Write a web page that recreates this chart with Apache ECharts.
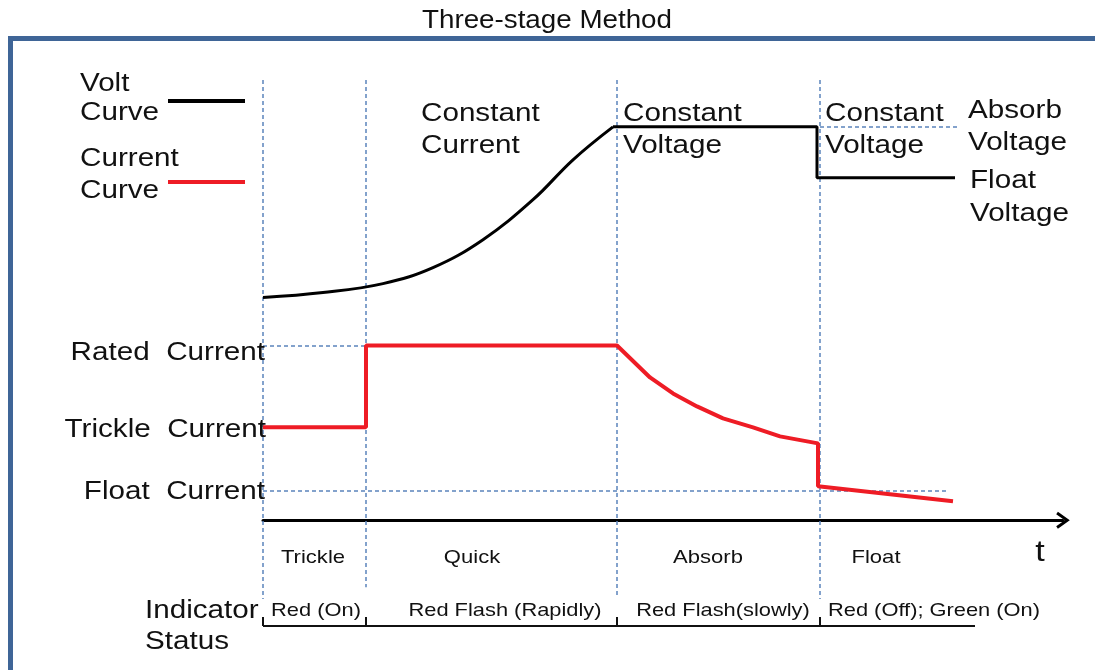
<!DOCTYPE html>
<html>
<head>
<meta charset="utf-8">
<script src="https://cdn.jsdelivr.net/npm/echarts@6/dist/echarts.min.js"></script>
<style>
  html, body { margin: 0; padding: 0; background: #fff; }
  #chart { width: 1095px; height: 670px; }
</style>
</head>
<body>
<div id="chart"></div>
<script>
// time runs 0..80 (arbitrary units), level runs -30..100 (arbitrary units)
var phaseBounds = [0, 10.3, 35.4, 55.7];
var phaseGuideTop = 88.2;
var phaseGuideBottom = [-15.8, -13.4, -15.2, -15.8];

var voltRamp = [
    [0, 44.6], [6, 45.6], [12, 47.4], [17, 50.6], [22, 56.2], [27, 64.2], [31, 72.2], [35, 78.8]
];
var voltHold = [[35, 78.8], [55.4, 78.8], [55.4, 68.6], [69.2, 68.6]];
var currentPts = [
    [0, 18.6], [10.3, 18.6], [10.3, 35], [35.4, 35], [38.7, 28.6], [41, 25.4], [43.4, 22.8],
    [46, 20.4], [49, 18.6], [51.7, 16.8], [55.5, 15.4], [55.5, 6.8], [69, 3.8]
];

var ratedLevel = 35;
var floatLevel = 6.0;
var absorbLevel = 78.8;
var floatGuideEnd = 68.5;
var absorbGuideEnd = 69.7;

var statusLevel = -21.2;
var statusTickTop = -19.4;
var statusEnd = 71.2;

var phaseNames = ['Trickle', 'Quick', 'Absorb', 'Float'];
var phaseNameX = [313, 472, 708, 876];
var indicatorTexts = ['Red (On)', 'Red Flash (Rapidly)', 'Red Flash(slowly)', 'Red (Off); Green (On)'];
var indicatorX = [316, 505, 723, 934];

var FONT = '"Liberation Sans", Arial, sans-serif';
var BIG = '26px ' + FONT;
var SMALL = '19px ' + FONT;
var dashColor = '#5b84bc';
var redColor = '#ee1c25';

var dom = document.getElementById('chart');
var myChart = echarts.init(dom);

// the source lettering is a little stretched sideways
function txt(s, x, y, font, align, sx) {
    return {
        type: 'text', x: x, y: y, z: 10, scaleX: sx || 1.14,
        style: { text: s, font: font, fill: '#111', textAlign: align || 'left', textVerticalAlign: 'middle' }
    };
}

var guideLines = [];
phaseBounds.forEach(function(t, i) {
    guideLines.push([{ coord: [t, phaseGuideTop] }, { coord: [t, phaseGuideBottom[i]] }]);
});
guideLines.push([{ coord: [0, ratedLevel] }, { coord: [phaseBounds[1], ratedLevel] }]);
guideLines.push([{ coord: [0, floatLevel] }, { coord: [floatGuideEnd, floatLevel] }]);
guideLines.push([{ coord: [phaseBounds[3], absorbLevel] }, { coord: [absorbGuideEnd, absorbLevel] }]);

var statusLines = [[{ coord: [0, statusLevel] }, { coord: [statusEnd, statusLevel] }]];
phaseBounds.forEach(function(t) {
    statusLines.push([{ coord: [t, statusTickTop] }, { coord: [t, statusLevel] }]);
});

var graphics = [
    { type: 'rect', z: 1, shape: { x: 10.5, y: 38.5, width: 1100, height: 700 },
      style: { fill: 'none', stroke: '#3f6597', lineWidth: 5 } },
    txt('Three-stage Method', 547, 21, '25px ' + FONT, 'center', 1.11),
    txt('Volt', 80, 84, BIG), txt('Curve', 80, 113, BIG),
    txt('Current', 80, 159, BIG), txt('Curve', 80, 191, BIG),
    { type: 'line', z: 10, shape: { x1: 168, y1: 101, x2: 245, y2: 101 }, style: { stroke: '#000', lineWidth: 4 } },
    { type: 'line', z: 10, shape: { x1: 168, y1: 182, x2: 245, y2: 182 }, style: { stroke: redColor, lineWidth: 4 } },
    txt('Constant', 421, 114, BIG), txt('Current', 421, 146, BIG),
    txt('Constant', 623, 114, BIG), txt('Voltage', 623, 146, BIG),
    txt('Constant', 825, 114, BIG), txt('Voltage', 825, 146, BIG),
    txt('Absorb', 968, 111, BIG), txt('Voltage', 968, 143, BIG),
    txt('Float', 970, 181, BIG), txt('Voltage', 970, 214, BIG),
    txt('Rated  Current', 265, 353, BIG, 'right'),
    txt('Trickle  Current', 266, 430, BIG, 'right'),
    txt('Float  Current', 265, 492, BIG, 'right'),
    txt('t', 1040, 553, '30px ' + FONT, 'center'),
    txt('Indicator', 145, 611, BIG), txt('Status', 145, 642, BIG)
];
phaseNames.forEach(function(s, i) { graphics.push(txt(s, phaseNameX[i], 558, SMALL, 'center', 1.16)); });
indicatorTexts.forEach(function(s, i) { graphics.push(txt(s, indicatorX[i], 611, SMALL, 'center', 1.15)); });

var option = {
    animation: false,
    grid: { left: 263, top: 21, width: 800, height: 650 },
    xAxis: {
        type: 'value', min: 0, max: 80,
        axisLine: {
            show: true, onZero: true,
            lineStyle: { color: '#000', width: 3 },
            symbol: ['none', 'path://M0,14 L10,0 L20,14 L17,16 L10,6 L3,16 Z'],
            symbolSize: [17, 14]
        },
        axisTick: { show: false }, axisLabel: { show: false }, splitLine: { show: false }
    },
    yAxis: {
        type: 'value', min: -30, max: 100,
        axisLine: { show: false }, axisTick: { show: false }, axisLabel: { show: false }, splitLine: { show: false }
    },
    graphic: graphics,
    series: [{
        name: 'guides',
        type: 'line',
        data: [],
        clip: false,
        z: 1,
        markLine: {
            silent: true, symbol: 'none', label: { show: false },
            lineStyle: { type: [4, 3], color: dashColor, width: 1.5 },
            data: guideLines
        }
    }, {
        name: 'status',
        type: 'line',
        data: [],
        clip: false,
        z: 2,
        markLine: {
            silent: true, symbol: 'none', label: { show: false },
            lineStyle: { type: 'solid', color: '#111', width: 2 },
            data: statusLines
        }
    }, {
        name: 'Volt Curve',
        type: 'line',
        data: voltRamp,
        smooth: 0.4,
        showSymbol: false,
        z: 5,
        lineStyle: { color: '#000', width: 3 }
    }, {
        name: 'Volt Curve',
        type: 'line',
        data: voltHold,
        showSymbol: false,
        z: 5,
        lineStyle: { color: '#000', width: 3 }
    }, {
        name: 'Current Curve',
        type: 'line',
        data: currentPts,
        showSymbol: false,
        z: 5,
        lineStyle: { color: redColor, width: 4 }
    }]
};
myChart.setOption(option, true);
</script>
</body>
</html>
